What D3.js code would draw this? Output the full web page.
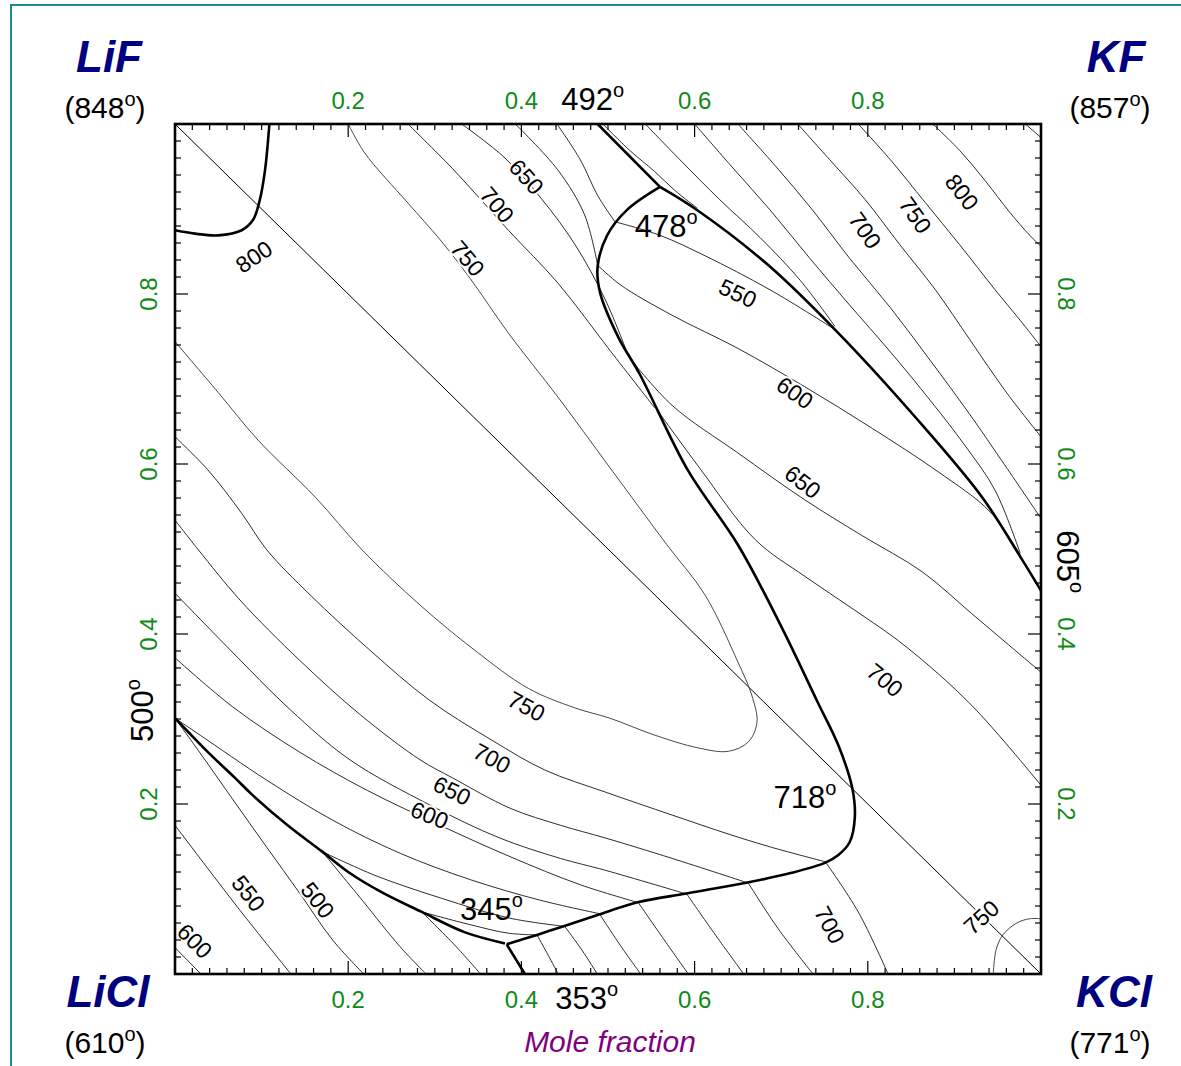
<!DOCTYPE html>
<html>
<head>
<meta charset="utf-8">
<script src="https://cdn.jsdelivr.net/npm/d3@7"></script>
<style>
  body { margin: 0; background: #fff; }
  svg text { font-family: "Liberation Sans", Arial, Helvetica, sans-serif; }
</style>
</head>
<body>
<svg id="chart" width="1181" height="1066"></svg>
<script>
// Reciprocal system Li+, K+ || F-, Cl-  — liquidus projection.
// Coordinates are mole fractions: x = K fraction (left→right), y = F fraction (bottom→top).

const tickValues = [0.2, 0.4, 0.6, 0.8];
const tickLabels = ["0.2", "0.4", "0.6", "0.8"];

const corners = [
  { name: "LiF",  temp: "848", corner: "tl" },
  { name: "KF",   temp: "857", corner: "tr" },
  { name: "LiCl", temp: "610", corner: "bl" },
  { name: "KCl",  temp: "771", corner: "br" }
];

// Field boundaries (univariant curves)
const boundaryLiFcorner = [[0.109,1.0],[0.104,0.946],[0.098,0.911],[0.090,0.887],[0.077,0.875],[0.050,0.869],[0.023,0.871],[0,0.875]];
const boundaryLiF_KF = [[0.488,1.0],[0.560,0.926]];
const boundaryKF_KCl = [[0.560,0.926],[0.604,0.898],[0.685,0.834],[0.766,0.754],[0.855,0.655],[0.932,0.561],[0.976,0.491],[1.0,0.451]];
const boundaryLiF_KCl = [[0.560,0.926],[0.522,0.899],[0.499,0.869],[0.488,0.832],[0.491,0.801],[0.512,0.749],[0.537,0.705],[0.592,0.593],
  [0.650,0.505],[0.701,0.407],[0.742,0.320],[0.766,0.269],[0.782,0.219],[0.785,0.184],[0.779,0.155],[0.766,0.140],
  [0.751,0.131],[0.712,0.119],[0.658,0.107],[0.592,0.095],[0.533,0.084],[0.487,0.069],[0.448,0.056],[0.418,0.046],[0.383,0.035]];
const boundaryLiCl_KCl = [[0.383,0.035],[0.404,0.0]];
const boundaryLiF_LiCl = [[0.381,0.036],[0.335,0.049],[0.285,0.073],[0.239,0.096],[0.200,0.120],[0.170,0.144],[0.130,0.175],
  [0.089,0.211],[0.069,0.231],[0.038,0.261],[0.015,0.285],[0,0.301]];

// Stable diagonal LiF–KCl
const diagonal = [[0,1],[1,0]];

// Isotherms in the LiF field
const isoLiF = [
  { t: 750, pts: [[0,0.744],[0.050,0.684],[0.096,0.628],[0.162,0.561],[0.216,0.499],[0.283,0.434],[0.346,0.381],[0.408,0.336],
    [0.462,0.313],[0.502,0.301],[0.554,0.281],[0.604,0.266],[0.639,0.262],[0.662,0.273],[0.672,0.296],[0.666,0.328],
    [0.650,0.367],[0.612,0.446],[0.568,0.505],[0.502,0.596],[0.442,0.679],[0.385,0.754],[0.341,0.818],[0.306,0.864],
    [0.269,0.907],[0.219,0.966],[0.200,1.0]] },
  { t: 700, pts: [[0.269,1.0],[0.320,0.948],[0.385,0.875],[0.442,0.813],[0.502,0.734],[0.554,0.666]] },
  { t: 650, pts: [[0.331,1.0],[0.381,0.960],[0.424,0.911],[0.462,0.858],[0.497,0.793],[0.524,0.726]] },
  { t: 600, pts: [[0.393,1.0],[0.442,0.946],[0.473,0.893],[0.488,0.834]] },
  { t: 550, pts: [[0.441,1.0],[0.468,0.958],[0.488,0.916],[0.508,0.885]] },
  { t: 700, pts: [[0,0.632],[0.038,0.593],[0.077,0.542],[0.106,0.499],[0.156,0.446],[0.225,0.381],[0.294,0.322],
    [0.366,0.275],[0.427,0.240],[0.497,0.214],[0.574,0.187],[0.641,0.164],[0.689,0.149],[0.751,0.132]] },
  { t: 650, pts: [[0,0.534],[0.027,0.499],[0.075,0.440],[0.144,0.369],[0.214,0.305],[0.283,0.252],[0.320,0.231],
    [0.387,0.195],[0.445,0.175],[0.497,0.160],[0.574,0.136],[0.662,0.107]] },
  { t: 600, pts: [[0,0.448],[0.064,0.381],[0.133,0.311],[0.202,0.252],[0.294,0.199],[0.375,0.160],[0.445,0.136],
    [0.497,0.122],[0.591,0.094]] },
  { t: 550, pts: [[0,0.372],[0.067,0.314],[0.144,0.261],[0.222,0.216],[0.306,0.175],[0.387,0.138],[0.468,0.105],[0.535,0.084]] },
  { t: 500, pts: [[0,0.301],[0.029,0.281],[0.106,0.228],[0.182,0.181],[0.260,0.142],[0.341,0.111],[0.421,0.087],[0.490,0.071]] },
  { t: 450, pts: [[0.170,0.144],[0.231,0.116],[0.308,0.089],[0.385,0.066],[0.450,0.056]] },
  { t: 400, pts: [[0.285,0.073],[0.341,0.058],[0.385,0.048],[0.418,0.046]] }
];

// Isotherms in the KCl field
const isoKCl = [
  { t: 550, pts: [[0.508,0.885],[0.560,0.869],[0.612,0.845],[0.687,0.805],[0.764,0.757]] },
  { t: 600, pts: [[0.488,0.834],[0.514,0.811],[0.574,0.775],[0.650,0.736],[0.727,0.691],[0.805,0.642],[0.881,0.591],[0.941,0.544],[0.976,0.493]] },
  { t: 650, pts: [[0.524,0.726],[0.574,0.669],[0.650,0.613],[0.727,0.558],[0.793,0.516],[0.863,0.473],[0.920,0.424],[1.0,0.355]] },
  { t: 700, pts: [[0.555,0.666],[0.606,0.595],[0.670,0.511],[0.727,0.468],[0.785,0.428],[0.843,0.386],[0.920,0.316],[1.0,0.222]] },
  { t: 700, pts: [[0.751,0.132],[0.789,0.073],[0.823,0.001]] },
  { t: 650, pts: [[0.662,0.107],[0.696,0.054],[0.736,0.001]] },
  { t: 600, pts: [[0.591,0.094],[0.624,0.046],[0.656,0.001]] },
  { t: 550, pts: [[0.535,0.084],[0.565,0.040],[0.592,0.001]] },
  { t: 500, pts: [[0.490,0.071],[0.514,0.034],[0.537,0.001]] },
  { t: 450, pts: [[0.450,0.056],[0.470,0.028],[0.487,0.001]] },
  { t: 400, pts: [[0.418,0.046],[0.431,0.022],[0.442,0.001]] },
  { t: 750, pts: [[0.945,0.001],[0.948,0.028],[0.956,0.046],[0.972,0.060],[0.987,0.065],[1.0,0.065]] }
];

// Isotherms in the KF field
const isoKF = [
  { t: 500, pts: [[0.494,1.0],[0.525,0.969],[0.554,0.944],[0.577,0.922],[0.603,0.901]] },
  { t: 550, pts: [[0.543,1.0],[0.583,0.958],[0.629,0.911],[0.676,0.866],[0.722,0.816],[0.762,0.762]] },
  { t: 600, pts: [[0.600,1.0],[0.641,0.952],[0.687,0.899],[0.733,0.842],[0.779,0.787],[0.826,0.732],[0.872,0.675],
    [0.912,0.622],[0.947,0.569],[0.976,0.495]] },
  { t: 650, pts: [[0.650,1.0],[0.693,0.951],[0.736,0.899],[0.779,0.842],[0.826,0.784],[0.872,0.722],[0.918,0.658],[0.958,0.599],[1.0,0.536]] },
  { t: 700, pts: [[0.719,1.0],[0.756,0.958],[0.797,0.911],[0.837,0.858],[0.878,0.805],[0.918,0.746],[0.958,0.687],[1.0,0.632]] },
  { t: 750, pts: [[0.789,1.0],[0.826,0.958],[0.866,0.908],[0.906,0.858],[0.947,0.805],[0.976,0.769],[1.0,0.738]] },
  { t: 800, pts: [[0.875,1.0],[0.906,0.969],[0.935,0.934],[0.964,0.896],[0.987,0.869],[1.0,0.856]] },
  { t: 850, pts: [[0.982,1.0],[1.0,0.984]] }
];

// Isotherms in the LiCl field
const isoLiCl = [
  { t: 500, pts: [[0,0.301],[0.029,0.260],[0.067,0.205],[0.106,0.149],[0.144,0.095],[0.182,0.040],[0.217,0.001]] },
  { t: 550, pts: [[0,0.175],[0.035,0.128],[0.075,0.075],[0.133,0.001]] },
  { t: 600, pts: [[0,0.031],[0.029,0.001]] },
  { t: 450, pts: [[0.170,0.144],[0.216,0.087],[0.260,0.032],[0.289,0.001]] },
  { t: 400, pts: [[0.285,0.073],[0.323,0.034],[0.352,0.001]] }
];

// Isotherm labels: value, position, rotation (deg)
const isoLabels = [
  { t: "800", x: 0.091, y: 0.844, a: -34 },
  { t: "750", x: 0.338, y: 0.842, a: 50 },
  { t: "700", x: 0.372, y: 0.905, a: 50 },
  { t: "650", x: 0.406, y: 0.938, a: 48 },
  { t: "550", x: 0.650, y: 0.801, a: 25 },
  { t: "600", x: 0.716, y: 0.684, a: 35 },
  { t: "650", x: 0.725, y: 0.579, a: 38 },
  { t: "700", x: 0.820, y: 0.346, a: 40 },
  { t: "700", x: 0.797, y: 0.875, a: 55 },
  { t: "750", x: 0.855, y: 0.893, a: 55 },
  { t: "800", x: 0.909, y: 0.920, a: 52 },
  { t: "750", x: 0.406, y: 0.315, a: 28 },
  { t: "700", x: 0.366, y: 0.254, a: 28 },
  { t: "650", x: 0.320, y: 0.216, a: 26 },
  { t: "600", x: 0.294, y: 0.187, a: 22 },
  { t: "550", x: 0.085, y: 0.095, a: 52 },
  { t: "500", x: 0.165, y: 0.087, a: 52 },
  { t: "600", x: 0.023, y: 0.039, a: 45 },
  { t: "700", x: 0.756, y: 0.058, a: 62 },
  { t: "750", x: 0.931, y: 0.067, a: -42 }
];

// Invariant point temperatures (text start position, orientation)
const pointLabels = [
  { t: "492", x: 0.446, y: 1.016,  rot: 0 },
  { t: "478", x: 0.531, y: 0.867,  rot: 0 },
  { t: "718", x: 0.691, y: 0.195,  rot: 0 },
  { t: "345", x: 0.329, y: 0.064,  rot: 0 },
  { t: "353", x: 0.439, y: -0.041, rot: 0 },
  { t: "605", x: 1.018, y: 0.522,  rot: 90 },
  { t: "500", x: -0.025, y: 0.273, rot: -90 }
];

// ---- Drawing ----
const svg = d3.select("#chart");
const W = 1181, H = 1066;
const x = d3.scaleLinear().domain([0, 1]).range([175, 1041]);
const y = d3.scaleLinear().domain([0, 1]).range([974, 124]);
const green = "#0f8a17", navy = "#000080", purple = "#800080";

// outer frame
svg.append("rect").attr("x", 11).attr("y", 5).attr("width", W + 20).attr("height", H + 20)
  .attr("fill", "none").attr("stroke", "#1f8a8a").attr("stroke-width", 2);

const smooth = d3.line().x(d => x(d[0])).y(d => y(d[1])).curve(d3.curveCatmullRom.alpha(0.5));
const straight = d3.line().x(d => x(d[0])).y(d => y(d[1]));

svg.append("clipPath").attr("id", "clip").append("rect")
  .attr("x", x(0)).attr("y", y(1)).attr("width", x(1) - x(0)).attr("height", y(0) - y(1));
const inner = svg.append("g").attr("clip-path", "url(#clip)");

// diagonal
inner.append("path").attr("d", straight(diagonal)).attr("fill", "none")
  .attr("stroke", "#000").attr("stroke-width", 1);

// isotherms
const allIso = [...isoLiF, ...isoKCl, ...isoKF, ...isoLiCl];
inner.selectAll("path.iso").data(allIso).join("path").attr("class", "iso")
  .attr("d", d => d.pts.length > 2 ? smooth(d.pts) : straight(d.pts))
  .attr("fill", "none").attr("stroke", (d, i) => (i === 0 || (d.t === 750 && i === isoLiF.length + 11)) ? "#333" : "#151515")
  .attr("stroke-width", 0.9);

// boundaries
const boundaries = [boundaryLiFcorner, boundaryLiF_KF, boundaryKF_KCl, boundaryLiF_KCl, boundaryLiCl_KCl, boundaryLiF_LiCl];
inner.selectAll("path.bnd").data(boundaries).join("path").attr("class", "bnd")
  .attr("d", d => d.length > 2 ? smooth(d) : straight(d)).attr("fill", "none")
  .attr("stroke", "#000").attr("stroke-width", 2.6).attr("stroke-linejoin", "round");

// isotherm labels
inner.selectAll("text.isol").data(isoLabels).join("text").attr("class", "isol")
  .attr("transform", d => `translate(${x(d.x)},${y(d.y)}) rotate(${d.a})`)
  .attr("text-anchor", "middle").attr("dy", "0.36em")
  .attr("font-size", 23).attr("fill", "#000")
  .attr("stroke", "#fff").attr("stroke-width", 4).attr("paint-order", "stroke")
  .text(d => d.t);

// plot frame with inward ticks every 0.02, longer at the labelled values
const minor = d3.range(1, 50).map(i => i / 50);
const isMajor = v => tickValues.some(t => Math.abs(t - v) < 1e-6);
const tlen = v => isMajor(v) ? 13 : 6;
const axisG = svg.append("g").attr("stroke", "#000").attr("stroke-width", 1.2);
axisG.selectAll("line.tt").data(minor).join("line").attr("class", "tt")
  .attr("x1", d => x(d)).attr("x2", d => x(d)).attr("y1", y(1)).attr("y2", d => y(1) + tlen(d));
axisG.selectAll("line.tb").data(minor).join("line").attr("class", "tb")
  .attr("x1", d => x(d)).attr("x2", d => x(d)).attr("y1", y(0)).attr("y2", d => y(0) - tlen(d));
axisG.selectAll("line.tl").data(minor).join("line").attr("class", "tl")
  .attr("y1", d => y(d)).attr("y2", d => y(d)).attr("x1", x(0)).attr("x2", d => x(0) + tlen(d));
axisG.selectAll("line.tr").data(minor).join("line").attr("class", "tr")
  .attr("y1", d => y(d)).attr("y2", d => y(d)).attr("x1", x(1)).attr("x2", d => x(1) - tlen(d));
svg.append("rect").attr("x", x(0)).attr("y", y(1)).attr("width", x(1) - x(0)).attr("height", y(0) - y(1))
  .attr("fill", "none").attr("stroke", "#000").attr("stroke-width", 2.6);

// tick labels on all four sides
const tl = svg.append("g").attr("fill", green).attr("font-size", 24);
tickValues.forEach((v, i) => {
  tl.append("text").attr("x", x(v)).attr("y", 109).attr("text-anchor", "middle").text(tickLabels[i]);
  tl.append("text").attr("x", x(v)).attr("y", 1008).attr("text-anchor", "middle").text(tickLabels[i]);
  tl.append("text").attr("transform", `translate(157,${y(v)}) rotate(-90)`).attr("text-anchor", "middle").text(tickLabels[i]);
  tl.append("text").attr("transform", `translate(1058,${y(v)}) rotate(90)`).attr("text-anchor", "middle").text(tickLabels[i]);
});

// corner components with melting points
const cornerPos = {
  tl: { nx: 109, tx: 105, ny: 72, ty: 118 },
  tr: { nx: 1116, tx: 1110, ny: 72, ty: 118 },
  bl: { nx: 108, tx: 105, ny: 1007, ty: 1053 },
  br: { nx: 1114, tx: 1110, ny: 1007, ty: 1053 }
};
corners.forEach(c => {
  const p = cornerPos[c.corner];
  svg.append("text").attr("x", p.nx).attr("y", p.ny).attr("text-anchor", "middle")
    .attr("font-size", 44).attr("font-weight", "bold").attr("font-style", "italic").attr("fill", navy)
    .text(c.name);
  const t = svg.append("text").attr("x", p.tx).attr("y", p.ty).attr("text-anchor", "middle")
    .attr("font-size", 30).attr("fill", "#000");
  t.append("tspan").text("(" + c.temp);
  t.append("tspan").attr("font-size", 20).attr("dy", -12).text("o");
  t.append("tspan").attr("dy", 12).text(")");
});

// invariant point labels
pointLabels.forEach(p => {
  const t = svg.append("text")
    .attr("transform", `translate(${x(p.x)},${y(p.y)}) rotate(${p.rot})`)
    .attr("text-anchor", "start").attr("font-size", 31).attr("fill", "#000");
  t.append("tspan").text(p.t);
  t.append("tspan").attr("font-size", 20).attr("dy", -13).text("o");
});

// axis title
svg.append("text").attr("x", 610).attr("y", 1052).attr("text-anchor", "middle")
  .attr("font-size", 30).attr("font-style", "italic").attr("fill", purple).text("Mole fraction");
</script>
</body>
</html>
